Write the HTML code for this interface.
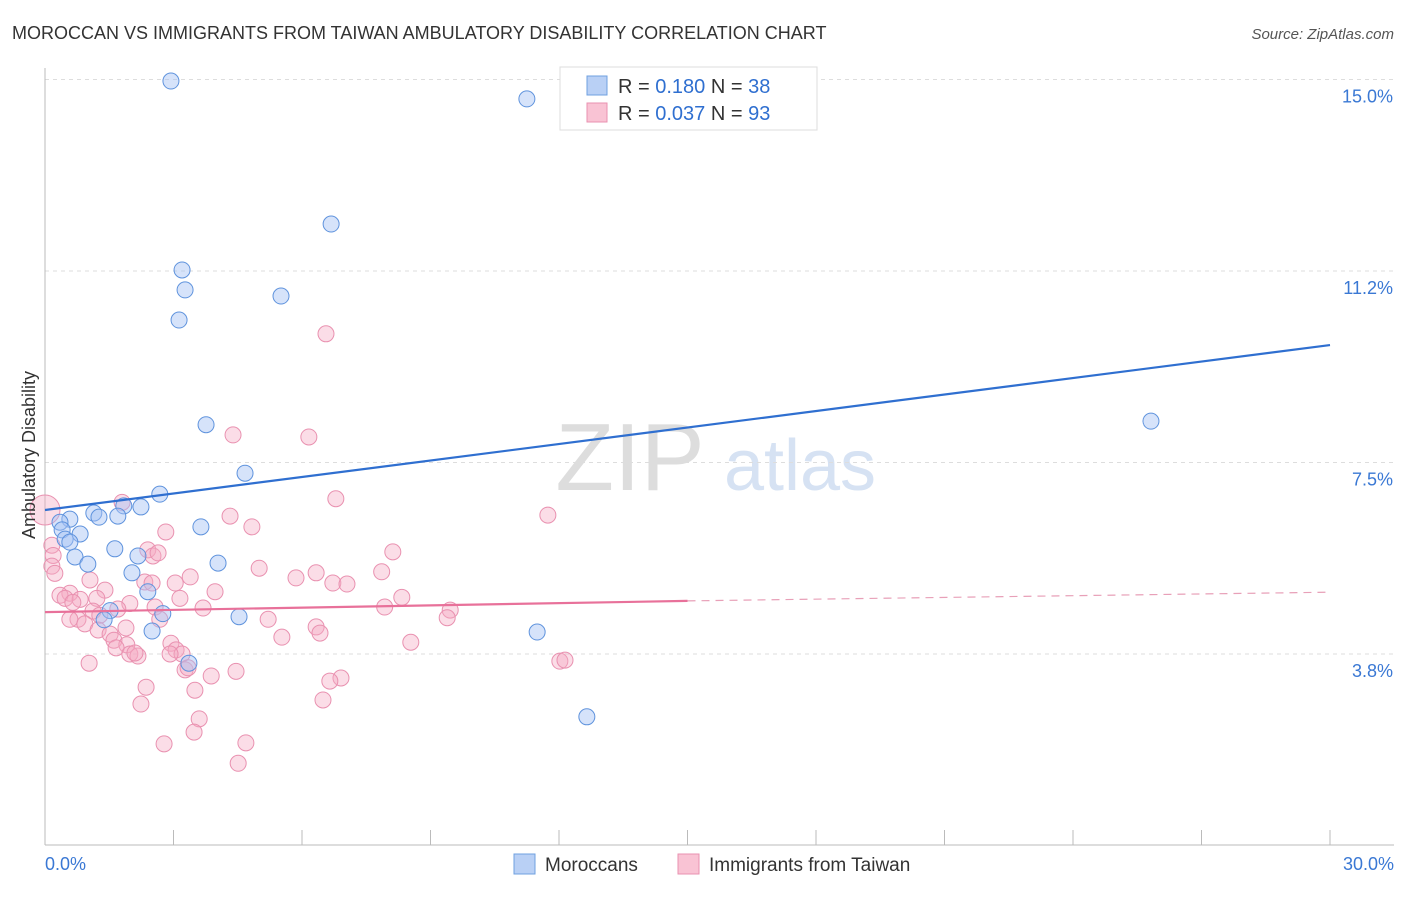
<!DOCTYPE html>
<html><head><meta charset="utf-8"><style>
body{margin:0;background:#fff;font-family:"Liberation Sans",sans-serif;}
svg text{font-family:"Liberation Sans",sans-serif;}
</style></head><body>
<svg id="chart" width="1406" height="892" xmlns="http://www.w3.org/2000/svg">
<text x="12" y="39" font-size="18" fill="#333">MOROCCAN VS IMMIGRANTS FROM TAIWAN AMBULATORY DISABILITY CORRELATION CHART</text>
<text x="1394" y="39" font-size="15" fill="#555" font-style="italic" text-anchor="end">Source: ZipAtlas.com</text>
<g><text x="630" y="490" font-size="96" fill="#ddd" font-family="Liberation Serif" text-anchor="middle">ZIP</text><text x="800" y="490" font-size="72" fill="#d6e2f3" text-anchor="middle">atlas</text></g>
<g id="grid"></g><g id="axes"></g><g id="marks"></g>
<text transform="translate(35,455) rotate(-90)" font-size="18" fill="#333" text-anchor="middle">Ambulatory Disability</text>
<g>
<rect x="560" y="67" width="257" height="63" fill="#fff" stroke="#ddd"/>
<rect x="587" y="76" width="20" height="19" fill="#b9d0f5" stroke="#6fa0e0"/>
<rect x="587" y="103" width="20" height="19" fill="#f9c3d4" stroke="#e991b0"/>
<text x="618" y="93" font-size="20" fill="#333">R = <tspan fill="#2f6fd0">0.180</tspan>   N = <tspan fill="#2f6fd0">38</tspan></text>
<text x="618" y="120" font-size="20" fill="#333">R = <tspan fill="#2f6fd0">0.037</tspan>   N = <tspan fill="#2f6fd0">93</tspan></text>
</g>
<g>
<rect x="514" y="854" width="21" height="20" fill="#b9d0f5" stroke="#6fa0e0"/>
<text x="545" y="871" font-size="19" fill="#333">Moroccans</text>
<rect x="678" y="854" width="21" height="20" fill="#f9c3d4" stroke="#e991b0"/>
<text x="709" y="871" font-size="19" fill="#333">Immigrants from Taiwan</text>
</g>
</svg>
<script>
const yTicks=[3.75,7.5,11.25,15];
const yTickLabels=["3.8%","7.5%","11.2%","15.0%"];
const xLabels=["0.0%","30.0%"];
const blueX=[2.94,11.25,6.68,3.20,3.27,5.51,3.13,3.76,25.82,4.67,2.68,2.24,1.84,1.14,1.26,1.70,0.58,0.35,0.40,3.64,0.82,0.47,0.58,1.63,2.17,0.70,4.04,1.00,2.03,2.40,1.52,2.75,1.38,4.53,2.50,11.49,3.36,12.65];
const blueY=[14.97,14.62,12.17,11.27,10.88,10.76,10.29,8.24,8.31,7.29,6.88,6.63,6.65,6.51,6.43,6.45,6.39,6.33,6.18,6.24,6.10,6.00,5.94,5.81,5.67,5.65,5.53,5.51,5.34,4.97,4.60,4.54,4.42,4.48,4.20,4.18,3.57,2.52];
const pinkX=[6.56,4.39,6.16,6.79,11.74,1.80,4.32,4.83,2.82,0.16,0.19,0.16,0.23,2.40,2.52,2.64,8.12,5.00,7.86,6.33,5.86,3.39,1.05,2.33,2.50,3.04,6.72,7.05,1.40,3.97,0.58,0.35,0.47,0.82,1.21,3.15,8.33,0.65,1.98,7.93,1.70,2.57,3.69,9.46,1.12,1.28,0.77,0.58,9.39,2.68,5.21,0.93,1.89,1.24,6.33,6.42,1.52,5.53,8.54,1.61,2.94,1.91,1.66,3.06,3.20,2.92,1.98,2.17,2.10,1.03,12.02,12.14,4.46,3.27,3.34,3.88,6.91,6.65,2.36,3.50,6.49,2.24,3.60,3.48,2.78,4.69,4.51];
const pinkY=[10.02,8.04,8.00,6.79,6.47,6.72,6.45,6.24,6.14,5.88,5.68,5.47,5.33,5.79,5.67,5.73,5.75,5.43,5.36,5.34,5.24,5.26,5.20,5.16,5.14,5.14,5.14,5.12,5.00,4.97,4.94,4.90,4.84,4.82,4.84,4.84,4.86,4.76,4.74,4.67,4.63,4.67,4.65,4.61,4.59,4.51,4.43,4.43,4.46,4.43,4.43,4.34,4.26,4.22,4.28,4.16,4.14,4.08,3.98,4.02,3.96,3.93,3.87,3.83,3.75,3.75,3.75,3.71,3.77,3.57,3.61,3.63,3.41,3.44,3.48,3.32,3.28,3.22,3.10,3.04,2.85,2.77,2.48,2.22,1.99,2.01,1.61];
const blueTrend=[6.57,9.80];
const pinkTrend=[4.57,4.79,4.96];
const X=v=>45+v/30*1285, Y=v=>845.5-v/3.75*191.5;
const NS="http://www.w3.org/2000/svg";
function mk(t,a,p){const e=document.createElementNS(NS,t);for(const k in a)e.setAttribute(k,a[k]);p.appendChild(e);return e;}
const grid=document.getElementById('grid'),axes=document.getElementById('axes'),marks=document.getElementById('marks');
yTicks.forEach((v,i)=>{
 const l=mk('line',{x1:45,x2:1394,y1:Y(v),y2:Y(v),stroke:'#ddd','stroke-dasharray':'4,4'},grid);
 
 
 const t=mk('text',{x:1393,y:Y(v)+23,'font-size':18,fill:'#3a78d4','text-anchor':'end'},axes);
 t.textContent=yTickLabels[i];
 
 
});
const ax=mk('line',{x1:45,x2:1394,y1:845,y2:845,stroke:'#bbb'},axes);


const ay=mk('line',{x1:45,x2:45,y1:68,y2:845,stroke:'#bbb'},axes);


for(let i=0;i<=10;i++){const tk=mk('line',{x1:X(i*3),x2:X(i*3),y1:830,y2:845,stroke:'#bbb'},axes);
 
 }
[[0,'start',45],[30,'end',1394]].forEach((d,i)=>{const t=mk('text',{x:d[2],y:870,'font-size':18,fill:'#3a78d4','text-anchor':d[1]},axes);t.textContent=xLabels[i];
 
 });
pinkX.forEach((x,i)=>{const c=mk('circle',{cx:X(x),cy:Y(pinkY[i]),r:(i==-1?14:8),fill:'rgba(244,170,195,0.4)',stroke:'#e991b0','stroke-width':1},marks);
 
 });
const big=mk('circle',{cx:X(0),cy:Y(6.57),r:15,fill:'rgba(244,170,195,0.4)',stroke:'#e991b0'},marks);


blueX.forEach((x,i)=>{const c=mk('circle',{cx:X(x),cy:Y(blueY[i]),r:8,fill:'rgba(164,194,244,0.45)',stroke:'#5f93dd','stroke-width':1},marks);
 
 });
const bl=mk('line',{x1:X(0),y1:Y(blueTrend[0]),x2:X(30),y2:Y(blueTrend[1]),stroke:'#2f6fd0','stroke-width':2.2},marks);


const pl=mk('line',{x1:X(0),y1:Y(pinkTrend[0]),x2:X(15),y2:Y(pinkTrend[1]),stroke:'#e8719a','stroke-width':2.2},marks);


const pd=mk('line',{x1:X(15),y1:Y(pinkTrend[1]),x2:X(30),y2:Y(pinkTrend[2]),stroke:'#e8a0b8','stroke-width':1.2,'stroke-dasharray':'8,6'},marks);


</script>
</body></html>
